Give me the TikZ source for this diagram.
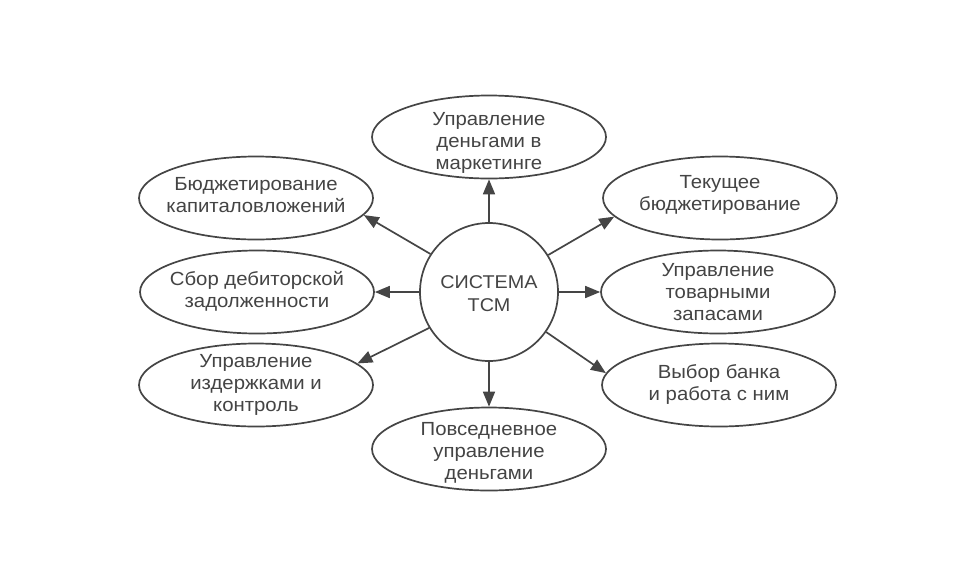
\documentclass[tikz,border=0pt]{standalone}
\usepackage{fontspec}
\setmainfont[FakeStretch=1.07]{Liberation Sans}
\usetikzlibrary{shapes.geometric,arrows.meta}
\definecolor{inkline}{HTML}{454545}
\definecolor{inktext}{HTML}{444444}
\newcommand\mylines[1]{\begin{tabular}[b]{@{}c@{}}#1\end{tabular}}
\tikzset{
  oval/.style={ellipse, draw=inkline, line width=1.7pt, inner sep=0pt,
    minimum width=234pt, minimum height=83pt},
  hub/.style={circle, draw=inkline, line width=1.7pt, inner sep=0pt,
    minimum size=138pt},
  txt/.style={anchor=base, inner sep=0pt, text=inktext,
    font=\fontsize{19}{22}\selectfont},
  link/.style={draw=inkline, line width=1.7pt,
    -{Triangle[length=15pt,width=12pt]}}
}
\begin{document}
\begin{tikzpicture}[x=1pt,y=-1pt]
\useasboundingbox[fill=white] (0,0) rectangle (977,582);
\node[hub] (c) at (489,292) {};
\node[oval] (t) at (489,137) {};
\node[oval] (b) at (489,449) {};
\node[oval] (lt) at (256,198) {};
\node[oval] (lm) at (257,292) {};
\node[oval] (lb) at (256,385) {};
\node[oval] (rt) at (720,198) {};
\node[oval] (rm) at (718,292) {};
\node[oval] (rb) at (719,385) {};
\node[txt, font=\fontsize{18.5}{23}\selectfont] (ct) at (489,311) {\mylines{СИСТЕМА\\ТСМ}};
\node[txt] (tt) at (489,169) {\mylines{Управление\\деньгами в\\маркетинге}};
\node[txt] (bt) at (489,479) {\mylines{Повседневное\\управление\\деньгами}};
\node[txt] (ltt) at (256,212) {\mylines{Бюджетирование\\капиталовложений}};
\node[txt] (lmt) at (257,307) {\mylines{Сбор дебиторской\\задолженности}};
\node[txt] (lbt) at (256,411) {\mylines{Управление\\издержками и\\контроль}};
\node[txt] (rtt) at (720,210) {\mylines{Текущее\\бюджетирование}};
\node[txt] (rmt) at (718,320) {\mylines{Управление\\товарными\\запасами}};
\node[txt] (rbt) at (719,400) {\mylines{Выбор банка\\и работа с ним}};
\draw[link] (c.north) -- (t.south);
\draw[link] (c.south) -- (b.north);
\draw[link] (c.west) -- (lm.east);
\draw[link] (c.east) -- (rm.west);
\draw[link] (c.147) -- (lt.-9);
\draw[link] (c.211) -- (lb.12);
\draw[link] (c.32) -- (rt.190);
\draw[link] (c.-35) -- (rb.174);
\end{tikzpicture}
\end{document}
